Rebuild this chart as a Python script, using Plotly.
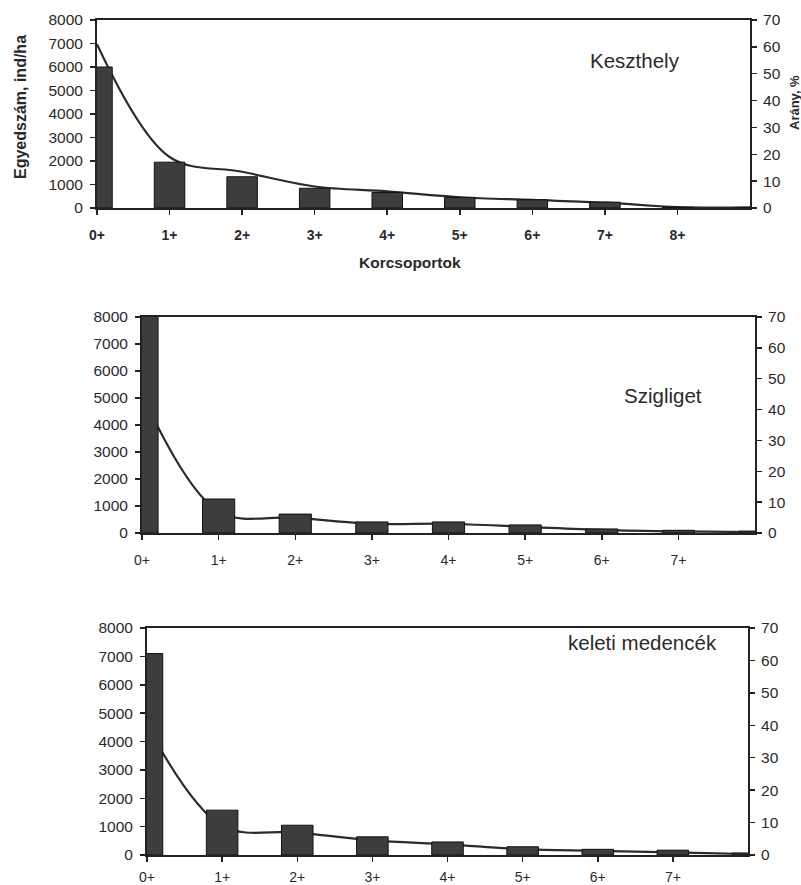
import plotly.graph_objects as go

# ---------------- data ----------------
kesz_labels = ["0+", "1+", "2+", "3+", "4+", "5+", "6+", "7+", "8+"]
kesz_density = [6000, 1950, 1330, 840, 660, 450, 350, 250, 30, 0]
kesz_pct = [61, 19, 13.5, 8, 6.2, 4, 3, 2, 0.3, 0.2]

szig_labels = ["0+", "1+", "2+", "3+", "4+", "5+", "6+", "7+"]
szig_density = [8050, 1260, 700, 410, 410, 300, 150, 100, 70]
szig_pct = [45, 7, 5, 3, 3, 2, 1, 0.5, 0.3]

kel_labels = ["0+", "1+", "2+", "3+", "4+", "5+", "6+", "7+"]
kel_density = [7100, 1580, 1050, 640, 460, 290, 200, 170, 70]
kel_pct = [40, 9, 7, 4.5, 3.3, 1.8, 1.3, 0.8, 0.3]

left_ticks = [0, 1000, 2000, 3000, 4000, 5000, 6000, 7000, 8000]
right_ticks = [0, 10, 20, 30, 40, 50, 60, 70]

W, H = 801, 885
FONT = "Liberation Sans, Arial, sans-serif"
INK = "#2a2a2a"
BAR = "#3d3d3d"

panels = [
    dict(labels=kesz_labels, dens=kesz_density, pct=kesz_pct,
         x0=97, x1=750, y0=20, y1=208, name="Keszthely", tx=635, ty=60,
         boldx=True, xstand=8),
    dict(labels=szig_labels, dens=szig_density, pct=szig_pct,
         x0=142, x1=755, y0=317, y1=533, name="Szigliget", tx=663, ty=395,
         boldx=False, xstand=8),
    dict(labels=kel_labels, dens=kel_density, pct=kel_pct,
         x0=147, x1=748, y0=628, y1=855, name="keleti medencék", tx=642, ty=642,
         boldx=False, xstand=3),
]

fig = go.Figure()
layout = dict(
    template="none",
    width=W, height=H, margin=dict(l=0, r=0, t=0, b=0, pad=0),
    paper_bgcolor="white", plot_bgcolor="white", showlegend=False,
    font=dict(family=FONT, color=INK, size=15),
)
annotations = []

for i, p in enumerate(panels):
    xi = "" if i == 0 else str(i + 1)
    ya = 2 * i + 1          # base axis: percentage (right), line drawn below bars
    yb = 2 * i + 2          # overlay axis: density (left), bars on top
    ya_s = "" if ya == 1 else str(ya)
    yb_s = str(yb)
    n = len(p["dens"])
    xs = list(range(n))

    fig.add_trace(go.Scatter(
        x=xs, y=p["pct"], mode="lines", xaxis="x" + xi, yaxis="y" + ya_s,
        line=dict(color="#2b2b2b", width=2.2, shape="spline", smoothing=1.0),
        hoverinfo="skip"))
    fig.add_trace(go.Bar(
        x=xs, y=p["dens"], width=0.42, xaxis="x" + xi, yaxis="y" + yb_s,
        marker=dict(color=BAR, line=dict(color="#111111", width=1)),
        hoverinfo="skip"))

    xd = [p["x0"] / W, p["x1"] / W]
    yd = [1 - p["y1"] / H, 1 - p["y0"] / H]

    common = dict(showline=True, linecolor="#222", linewidth=2,
                  ticks="outside", ticklen=5, tickwidth=1.5, tickcolor="#222",
                  showgrid=False, zeroline=False, automargin=False)
    layout["xaxis" + xi] = dict(
        domain=xd, anchor="y" + ya_s, range=[0, n - 1],
        tickvals=list(range(len(p["labels"]))), ticktext=p["labels"],
        mirror=True,
        tickfont=dict(size=14, family=FONT, color=INK,
                      weight="bold" if p["boldx"] else "normal"),
        ticklabelstandoff=p["xstand"], **common)
    layout["yaxis" + ya_s] = dict(
        domain=yd, anchor="x" + xi, side="right", range=[0, 70],
        tickvals=right_ticks, tickfont=dict(size=15.5),
        ticklabelstandoff=3, **common)
    layout["yaxis" + yb_s] = dict(
        overlaying="y" + ya_s, anchor="x" + xi, side="left", range=[0, 8000],
        tickvals=left_ticks, tickfont=dict(size=15.5),
        ticklabelstandoff=4, **common)
    annotations.append(dict(
        text=p["name"], x=p["tx"] / W, y=1 - p["ty"] / H, xref="paper", yref="paper",
        showarrow=False, font=dict(size=20.5, family=FONT, color=INK),
        xanchor="center", yanchor="middle"))

annotations += [
    dict(text="<b>Egyedszám, ind/ha</b>", x=20 / W, y=1 - 107 / H, xref="paper", yref="paper",
         showarrow=False, textangle=-90, font=dict(size=16, family=FONT, color=INK),
         xanchor="center", yanchor="middle"),
    dict(text="<b>Arány, %</b>", x=794 / W, y=1 - 103 / H, xref="paper", yref="paper",
         showarrow=False, textangle=-90, font=dict(size=13, family=FONT, color=INK),
         xanchor="center", yanchor="middle"),
    dict(text="<b>Korcsoportok</b>", x=410 / W, y=1 - 262 / H, xref="paper", yref="paper",
         showarrow=False, font=dict(size=15.5, family=FONT, color=INK),
         xanchor="center", yanchor="middle"),
]
layout["annotations"] = annotations
fig.update_layout(**layout)
fig.write_html(
    "out.html",
    config={"displayModeBar": False, "staticPlot": True},
    post_script="document.body.style.margin='0px';document.body.style.overflow='hidden';",
)
